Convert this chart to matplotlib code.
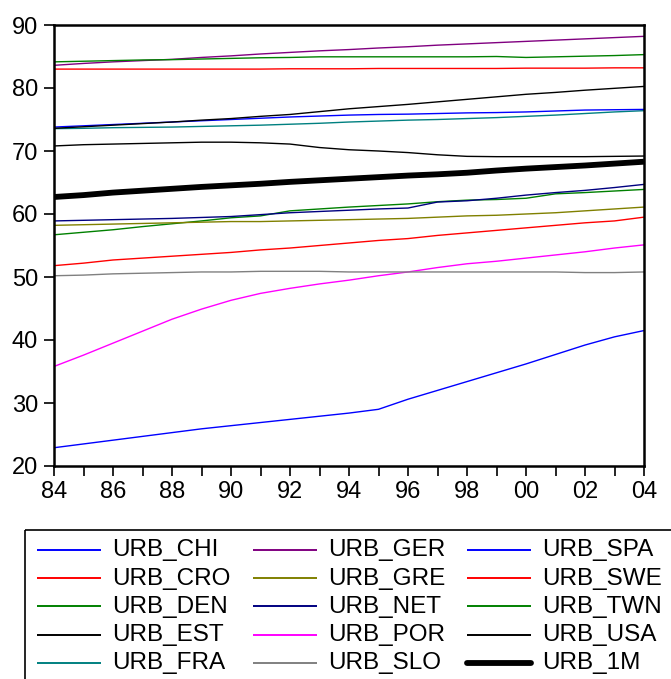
import matplotlib
matplotlib.use("Agg")
import matplotlib.pyplot as plt
from matplotlib.lines import Line2D
from matplotlib.patches import Rectangle

plt.rcParams['font.family'] = ['Liberation Sans', 'DejaVu Sans']

years = list(range(1984, 2005))

urb_chi = [22.9, 23.5, 24.1, 24.7, 25.3, 25.9, 26.4, 26.9, 27.4, 27.9, 28.4,
           29.0, 30.6, 32.0, 33.4, 34.8, 36.2, 37.7, 39.2, 40.5, 41.5]
urb_cro = [51.8, 52.2, 52.7, 53.0, 53.3, 53.6, 53.9, 54.3, 54.6, 55.0, 55.4,
           55.8, 56.1, 56.6, 57.0, 57.4, 57.8, 58.2, 58.6, 58.9, 59.5]
urb_den = [56.7, 57.1, 57.5, 58.0, 58.45, 58.9, 59.4, 59.7, 60.5, 60.8, 61.1,
           61.35, 61.6, 61.95, 62.2, 62.3, 62.5, 63.2, 63.4, 63.65, 63.9]
urb_est = [70.8, 71.0, 71.1, 71.2, 71.3, 71.4, 71.4, 71.3, 71.1, 70.55, 70.2,
           70.0, 69.75, 69.4, 69.15, 69.1, 69.1, 69.1, 69.1, 69.15, 69.2]
urb_fra = [73.55, 73.6, 73.7, 73.75, 73.8, 73.9, 74.0, 74.1, 74.25, 74.4, 74.6,
           74.75, 74.9, 75.0, 75.15, 75.3, 75.5, 75.7, 75.95, 76.2, 76.4]
urb_ger = [83.6, 83.9, 84.15, 84.35, 84.55, 84.85, 85.1, 85.4, 85.65, 85.9, 86.1,
           86.35, 86.55, 86.8, 87.0, 87.2, 87.4, 87.6, 87.8, 88.0, 88.2]
urb_gre = [58.2, 58.3, 58.4, 58.5, 58.6, 58.7, 58.8, 58.8, 58.9, 59.0, 59.1,
           59.2, 59.3, 59.5, 59.7, 59.8, 60.0, 60.2, 60.5, 60.8, 61.1]
urb_net = [58.9, 59.0, 59.1, 59.2, 59.3, 59.45, 59.6, 59.9, 60.2, 60.4, 60.6,
           60.8, 60.95, 61.9, 62.1, 62.5, 63.0, 63.4, 63.75, 64.2, 64.7]
urb_por = [35.8, 37.6, 39.5, 41.4, 43.3, 44.9, 46.3, 47.4, 48.2, 48.9, 49.5,
           50.2, 50.8, 51.5, 52.1, 52.5, 53.0, 53.5, 54.0, 54.6, 55.1]
urb_slo = [50.2, 50.3, 50.5, 50.6, 50.7, 50.8, 50.8, 50.9, 50.9, 50.9, 50.8,
           50.8, 50.8, 50.8, 50.8, 50.8, 50.8, 50.8, 50.7, 50.7, 50.8]
urb_spa = [73.8, 74.0, 74.2, 74.4, 74.6, 74.8, 75.0, 75.2, 75.4, 75.55, 75.7,
           75.8, 75.85, 75.95, 76.05, 76.1, 76.2, 76.35, 76.5, 76.55, 76.6]
urb_swe = [83.0, 83.0, 83.0, 83.0, 83.0, 83.0, 83.0, 83.0, 83.05, 83.05, 83.05,
           83.1, 83.1, 83.1, 83.1, 83.1, 83.15, 83.15, 83.15, 83.2, 83.2]
urb_twn = [84.15, 84.25, 84.35, 84.45, 84.5, 84.6, 84.7, 84.8, 84.85, 84.95, 84.95,
           84.95, 84.95, 84.95, 84.95, 85.0, 84.85, 84.95, 85.05, 85.15, 85.3]
urb_usa = [73.6, 73.85, 74.1, 74.35, 74.6, 74.9, 75.15, 75.5, 75.8, 76.25, 76.7,
           77.05, 77.4, 77.8, 78.2, 78.6, 79.0, 79.3, 79.65, 79.95, 80.25]
urb_1m = [62.7, 63.0, 63.4, 63.7, 64.0, 64.3, 64.55, 64.8, 65.1, 65.35, 65.6,
          65.85, 66.1, 66.3, 66.55, 66.9, 67.2, 67.45, 67.7, 68.0, 68.3]

names = ["URB_CHI", "URB_CRO", "URB_DEN", "URB_EST", "URB_FRA",
         "URB_GER", "URB_GRE", "URB_NET", "URB_POR", "URB_SLO",
         "URB_SPA", "URB_SWE", "URB_TWN", "URB_USA", "URB_1M"]
values = [urb_chi, urb_cro, urb_den, urb_est, urb_fra,
          urb_ger, urb_gre, urb_net, urb_por, urb_slo,
          urb_spa, urb_swe, urb_twn, urb_usa, urb_1m]
colors = ["#0000FF", "#FF0000", "#008000", "#000000", "#008080",
          "#800080", "#808000", "#000080", "#FF00FF", "#808080",
          "#0000FF", "#FF0000", "#008000", "#000000", "#000000"]
widths = [1.0] * 14 + [4.2]

W, H = 671, 679
fig = plt.figure(figsize=(W / 100, H / 100), dpi=100)
ax = fig.add_axes([54 / W, 1 - 466 / H, (644 - 54) / W, (466 - 25) / H])

for name, vals, col, lw in zip(names, values, colors, widths):
    ax.plot(years, vals, color=col, lw=lw, label=name, solid_capstyle='butt')

ax.set_xlim(1984, 2004)
ax.set_ylim(20, 90)
ax.set_yticks(range(20, 91, 10))
ax.set_xticks(range(1984, 2005, 2))
ax.set_xticklabels([f"{y % 100:02d}" for y in range(1984, 2005, 2)])
ax.set_xticks(range(1984, 2005), minor=True)
ax.tick_params(axis='both', which='both', direction='out', length=7.5, width=1.2,
               colors='black', labelsize=17)
ax.tick_params(axis='x', which='both', pad=3)
ax.tick_params(axis='y', pad=4)
for sp in ax.spines.values():
    sp.set_linewidth(1.8)
    sp.set_color('black')

# Legend panel below the plot: three columns of five entries
lax = fig.add_axes([0, 0, 1, 1], facecolor='none')
lax.set_xlim(0, W)
lax.set_ylim(H, 0)
lax.axis('off')
lax.add_patch(Rectangle((25, 530), 700, 200, fill=False, edgecolor='black', lw=1.2))
col_x = [37, 253, 467]
row_y = [549.5, 578, 606, 634.5, 663]
for i, (name, col, lw) in enumerate(zip(names, colors, widths)):
    c, r = divmod(i, 5)
    x0, y0 = col_x[c], row_y[r]
    lax.add_line(Line2D([x0, x0 + 64], [y0, y0], color=col, lw=lw if lw > 1 else 1.4,
                        solid_capstyle='round' if lw > 1 else 'butt'))
    lax.text(x0 + 75, y0 + 0.5, name, fontsize=17.5, va='center', ha='left')

fig.savefig("out.png", dpi=100)
